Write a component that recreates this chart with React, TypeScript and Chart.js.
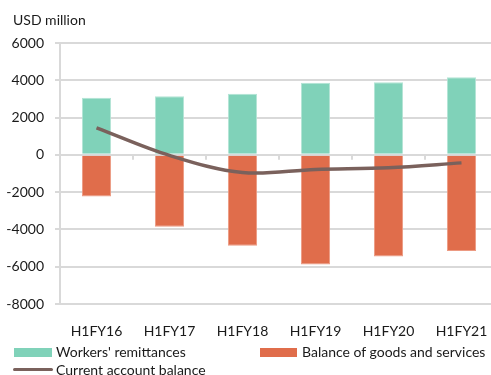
import React, { useEffect, useRef } from "react";
import { Chart, registerables } from "chart.js";

Chart.register(...registerables);

const categories = ["H1FY16", "H1FY17", "H1FY18", "H1FY19", "H1FY20", "H1FY21"];
const remittances = [3060, 3150, 3280, 3870, 3890, 4160];
const goodsServices = [-2240, -3850, -4870, -5880, -5450, -5160];
const currentAccount = [1450, -30, -950, -780, -690, -430];
const yTicks = [6000, 4000, 2000, 0, -2000, -4000, -6000, -8000];

const FONT = "Lato, 'Open Sans', sans-serif";
const FS = 14;
const TEAL = "#80d2b9";
const ORANGE = "#e06d4b";
const LINE = "#7a615c";
const GRID = "#d9d9d9";

const zeroTicks = {
  id: "zeroTicks",
  beforeDatasetsDraw(chart: any) {
    const x = chart.scales.x;
    const y = chart.scales.y;
    const ctx = chart.ctx;
    const y0 = y.getPixelForValue(0);
    const half = (x.getPixelForValue(1) - x.getPixelForValue(0)) / 2;
    ctx.save();
    ctx.strokeStyle = GRID;
    ctx.lineWidth = 2;
    for (let i = 0; i < categories.length - 1; i++) {
      const px = Math.round(x.getPixelForValue(i) + half);
      ctx.beginPath();
      ctx.moveTo(px, y0);
      ctx.lineTo(px, y0 + 5);
      ctx.stroke();
    }
    ctx.restore();
  },
};

export default function App() {
  const ref = useRef<HTMLCanvasElement | null>(null);
  useEffect(() => {
    if (!ref.current) return;
    const chart = new Chart(ref.current, {
      type: "bar",
      data: {
        labels: categories,
        datasets: [
          {
            type: "line",
            label: "Current account balance",
            data: currentAccount,
            borderColor: LINE,
            backgroundColor: LINE,
            borderWidth: 3.5,
            pointRadius: 0,
            tension: 0.35,
            stack: "line",
            order: 0,
          } as any,
          {
            label: "Workers' remittances",
            data: remittances,
            backgroundColor: TEAL,
            borderColor: "#b3e4d5",
            borderWidth: 1,
            stack: "bars",
            order: 1,
          },
          {
            label: "Balance of goods and services",
            data: goodsServices,
            backgroundColor: ORANGE,
            borderColor: "#ec9a82",
            borderWidth: 1,
            stack: "bars",
            order: 1,
          },
        ],
      },
      options: {
        animation: false,
        responsive: false,
        maintainAspectRatio: false,
        layout: { padding: { top: 43, right: 1, bottom: 0, left: 0 } },
        plugins: {
          legend: { display: false },
          tooltip: { enabled: false },
          title: { display: false },
        },
        datasets: {
          bar: { categoryPercentage: 1, barPercentage: 0.4 },
        },
        scales: {
          x: {
            stacked: true,
            grid: { display: false },
            border: { display: true, color: GRID, width: 2 },
            ticks: {
              color: "#1a1a1a",
              font: { family: FONT, size: FS },
              padding: 11,
              maxRotation: 0,
            },
            afterFit(scale: any) {
              scale.height = 71;
            },
          },
          y: {
            stacked: true,
            min: -8000,
            max: 6000,
            afterBuildTicks(scale: any) {
              scale.ticks = yTicks.map((v) => ({ value: v }));
            },
            grid: { color: GRID, lineWidth: 2, tickLength: 5, drawTicks: true },
            border: { display: true, color: GRID, width: 2 },
            ticks: {
              color: "#1a1a1a",
              font: { family: FONT, size: FS },
              padding: 11,
              callback: (v: any) => String(v),
            },
            afterFit(scale: any) {
              scale.width = 60;
            },
          },
        },
      },
      plugins: [zeroTicks],
    });
    return () => chart.destroy();
  }, []);

  const text: React.CSSProperties = {
    position: "absolute",
    fontFamily: FONT,
    fontSize: FS,
    color: "#1a1a1a",
    lineHeight: "16px",
    whiteSpace: "nowrap",
  };

  return (
    <div
      style={{
        position: "fixed",
        left: 0,
        top: 0,
        width: 491,
        height: 375,
        overflow: "hidden",
        background: "#fff",
      }}
    >
      <canvas ref={ref} width={499} height={375} style={{ position: "absolute", left: 0, top: 0 }} />
      <div style={{ ...text, left: 13, top: 12 }}>USD million</div>
      <div style={{ position: "absolute", left: 14, top: 348, width: 38, height: 9, background: TEAL }} />
      <div style={{ ...text, left: 56, top: 344 }}>Workers' remittances</div>
      <div style={{ position: "absolute", left: 260, top: 348, width: 37, height: 9, background: ORANGE }} />
      <div style={{ ...text, left: 302, top: 344 }}>Balance of goods and services</div>
      <div
        style={{
          position: "absolute",
          left: 13,
          top: 367.5,
          width: 40,
          height: 3.5,
          borderRadius: 2,
          background: LINE,
        }}
      />
      <div style={{ ...text, left: 56, top: 362 }}>Current account balance</div>
    </div>
  );
}
